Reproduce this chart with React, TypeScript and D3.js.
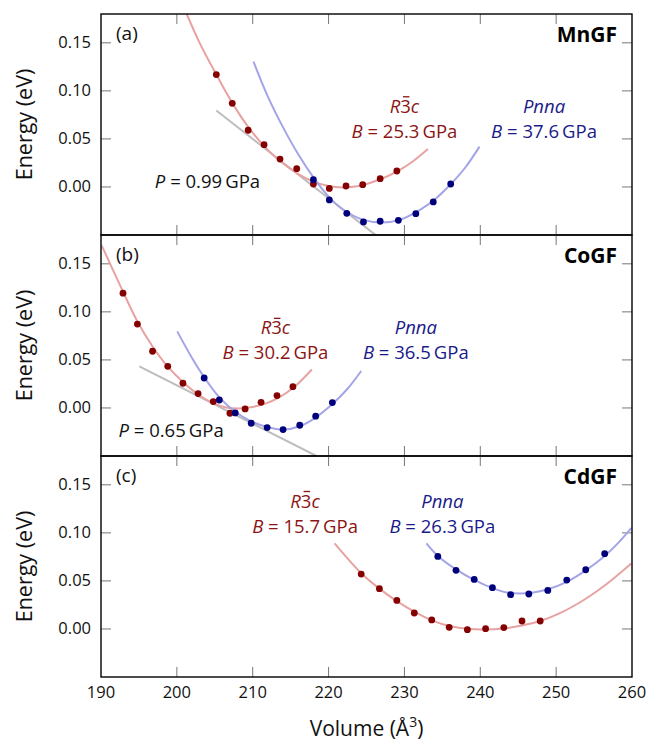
import React from 'react';
import * as d3 from 'd3';

// axis ticks
const xTicks = [190, 200, 210, 220, 230, 240, 250, 260];
const yTicks = [0, 0.05, 0.1, 0.15];
const yTickLabels = ['0.00', '0.05', '0.10', '0.15'];

const panelLabels = ['(a)', '(b)', '(c)'];
const compounds = ['MnGF', 'CoGF', 'CdGF'];
const bulkR3c = ['25.3', '30.2', '15.7'];
const bulkPnna = ['37.6', '36.5', '26.3'];
const pressures = ['0.99', '0.65', ''];

// MnGF
const mnR3cV = [205.2, 207.3, 209.4, 211.5, 213.6, 215.8, 218.0, 220.1, 222.3, 224.5, 226.8, 229.0];
const mnR3cE = [0.117, 0.087, 0.059, 0.044, 0.029, 0.019, 0.003, -0.0015, 0.001, 0.0024, 0.0086, 0.0166];
const mnPnnaV = [218.0, 220.1, 222.4, 224.6, 226.8, 229.2, 231.5, 233.8, 236.1];
const mnPnnaE = [0.0076, -0.0135, -0.0274, -0.0364, -0.0357, -0.0347, -0.0278, -0.0156, 0.0031];
const mnR3cFitV = [201.3, 203, 205.2, 207.3, 209.4, 211.5, 213.6, 215.8, 218, 220, 221.8, 224, 226.8, 229, 231, 233.1];
const mnR3cFitE = [0.18, 0.15, 0.117, 0.0875, 0.0625, 0.0425, 0.027, 0.0145, 0.0055, 0.001, -0.0005, 0.001, 0.008, 0.016, 0.026, 0.0395];
const mnPnnaFitV = [210.1, 212, 214, 216, 218, 220, 222, 224.5, 227, 229.5, 232, 234, 236, 238, 239.9];
const mnPnnaFitE = [0.1305, 0.094, 0.062, 0.034, 0.01, -0.01, -0.024, -0.034, -0.037, -0.034, -0.024, -0.013, 0.002, 0.02, 0.042];
const mnTangentV = [205.2, 226.2];
const mnTangentE = [0.0796, -0.05];

// CoGF
const coR3cV = [192.9, 194.8, 196.8, 198.8, 200.8, 202.8, 204.8, 207.0, 209.0, 211.1, 213.2, 215.3];
const coR3cE = [0.1195, 0.0873, 0.059, 0.0433, 0.0257, 0.015, 0.0066, -0.0055, -0.001, 0.0059, 0.0129, 0.0222];
const coPnnaV = [203.6, 205.6, 207.7, 209.8, 211.9, 214.0, 216.2, 218.3, 220.5];
const coPnnaE = [0.0312, 0.0083, -0.0052, -0.0159, -0.0204, -0.0225, -0.018, -0.0086, 0.0056];
const coR3cFitV = [190.1, 192.9, 194.8, 196.8, 198.8, 200.8, 202.8, 204.8, 206.5, 208, 209.5, 211.5, 213.5, 215.5, 217.8];
const coR3cFitE = [0.169, 0.121, 0.09, 0.064, 0.043, 0.027, 0.014, 0.005, 0.0005, -0.0005, 0.0005, 0.004, 0.011, 0.022, 0.04];
const coPnnaFitV = [200.05, 202, 203.6, 205.6, 207.7, 209.8, 212, 214, 216.2, 218.3, 220.5, 222.5, 224.3];
const coPnnaFitE = [0.0797, 0.052, 0.032, 0.011, -0.004, -0.014, -0.02, -0.0225, -0.019, -0.01, 0.004, 0.02, 0.0385];
const coTangentV = [195.05, 218.4];
const coTangentE = [0.0433, -0.05];

// CdGF
const cdR3cV = [224.3, 226.7, 229.0, 231.3, 233.6, 235.9, 238.3, 240.7, 243.1, 245.5, 247.9];
const cdR3cE = [0.0571, 0.0419, 0.0297, 0.0166, 0.0094, 0.0017, -0.0007, 0.0003, 0.0014, 0.0083, 0.0083];
const cdPnnaV = [234.4, 236.8, 239.2, 241.6, 244.0, 246.4, 248.9, 251.4, 253.9, 256.4];
const cdPnnaE = [0.0755, 0.061, 0.0516, 0.043, 0.0357, 0.0364, 0.0401, 0.0509, 0.0616, 0.0783];
const cdR3cFitV = [220.8, 224.3, 226.7, 229, 231.3, 233.6, 236, 238.5, 240.5, 243, 245.5, 248, 250.5, 253, 255.5, 257.5, 259.9];
const cdR3cFitE = [0.089, 0.058, 0.042, 0.029, 0.018, 0.009, 0.003, 0.0, -0.0005, 0.0005, 0.0035, 0.0085, 0.0165, 0.027, 0.04, 0.052, 0.068];
const cdPnnaFitV = [232.9, 234.4, 236.8, 239.2, 241.6, 243.5, 245.2, 247, 249, 251.4, 253.9, 256.4, 258, 259.9];
const cdPnnaFitE = [0.089, 0.076, 0.062, 0.051, 0.0425, 0.038, 0.037, 0.038, 0.0415, 0.049, 0.061, 0.076, 0.088, 0.105];

const zip = (v: number[], e: number[]) => v.map((d, i) => [d, e[i]] as [number, number]);

const panels = [
  {
    r3c: zip(mnR3cV, mnR3cE), pnna: zip(mnPnnaV, mnPnnaE),
    r3cFit: zip(mnR3cFitV, mnR3cFitE), pnnaFit: zip(mnPnnaFitV, mnPnnaFitE),
    tangent: zip(mnTangentV, mnTangentE),
    r3cLab: [230, 0.0772], pnnaLab: [248.4, 0.0772], pLab: [197.1, -0.0007],
  },
  {
    r3c: zip(coR3cV, coR3cE), pnna: zip(coPnnaV, coPnnaE),
    r3cFit: zip(coR3cFitV, coR3cFitE), pnnaFit: zip(coPnnaFitV, coPnnaFitE),
    tangent: zip(coTangentV, coTangentE),
    r3cLab: [213, 0.0766], pnnaLab: [231.5, 0.0766], pLab: [192.3, -0.0301],
  },
  {
    r3c: zip(cdR3cV, cdR3cE), pnna: zip(cdPnnaV, cdPnnaE),
    r3cFit: zip(cdR3cFitV, cdR3cFitE), pnnaFit: zip(cdPnnaFitV, cdPnnaFitE),
    tangent: null as null | [number, number][],
    r3cLab: [216.9, 0.1264], pnnaLab: [235, 0.1264], pLab: [0, 0],
  },
];

const W = 647;
const H = 742;
const left = 101;
const right = 632;
const panelTops = [14, 235, 456];
const panelH = 221;

const RED_DOT = '#850000';
const RED_LINE = '#e8a2a2';
const RED_TEXT = '#8b1414';
const BLUE_DOT = '#00007d';
const BLUE_LINE = '#a4a4e8';
const BLUE_TEXT = '#1a1a8a';
const FONT = '"Open Sans", "DejaVu Sans", sans-serif';

const x = d3.scaleLinear().domain([190, 260]).range([left, right]);

export default function App() {
  return (
    <svg width={W} height={H} style={{ position: 'absolute', left: 0, top: 0, background: '#fff' }} fontFamily={FONT}>
      <defs>
        {panelTops.map((t, i) => (
          <clipPath id={`clip${i}`} key={i}>
            <rect x={left} y={t} width={right - left} height={panelH} />
          </clipPath>
        ))}
      </defs>
      {panels.map((p, i) => {
        const top = panelTops[i];
        const y = d3.scaleLinear().domain([-0.05, 0.18]).range([top + panelH, top]);
        const line = d3.line<[number, number]>().x(d => x(d[0])).y(d => y(d[1])).curve(d3.curveCatmullRom.alpha(0.5));
        const tickLen = 10;
        const emph = 18.5;
        const rx = x(p.r3cLab[0]);
        const ry = y(p.r3cLab[1]);
        return (
          <g key={i}>
            {/* ticks on all four sides, pointing in */}
            {xTicks.slice(1, -1).map(t => (
              <g key={`xt${t}`} stroke="#777" strokeWidth={1}>
                <line x1={x(t)} x2={x(t)} y1={top} y2={top + tickLen} />
                <line x1={x(t)} x2={x(t)} y1={top + panelH} y2={top + panelH - tickLen} />
              </g>
            ))}
            {yTicks.map(t => (
              <g key={`yt${t}`} stroke="#777" strokeWidth={1}>
                <line x1={left} x2={left + tickLen} y1={y(t)} y2={y(t)} />
                <line x1={right} x2={right - tickLen} y1={y(t)} y2={y(t)} />
              </g>
            ))}
            {yTicks.map((t, k) => (
              <text key={`yl${t}`} x={left - 10} y={y(t) + 5.5} textAnchor="end" fontSize={16.5} fill="#111">
                {yTickLabels[k]}
              </text>
            ))}
            <text transform={`translate(32,${top + panelH / 2}) rotate(-90)`} textAnchor="middle" fontSize={21.5} fill="#111">
              Energy (eV)
            </text>

            <g clipPath={`url(#clip${i})`}>
              {p.tangent && (
                <path d={d3.line<[number, number]>().x(d => x(d[0])).y(d => y(d[1]))(p.tangent) || ''} stroke="#bdbdbd" strokeWidth={2} fill="none" />
              )}
              <path d={line(p.r3cFit) || ''} stroke={RED_LINE} strokeWidth={2} fill="none" />
              <path d={line(p.pnnaFit) || ''} stroke={BLUE_LINE} strokeWidth={2} fill="none" />
              {p.r3c.map((d, k) => (
                <circle key={`r${k}`} cx={x(d[0])} cy={y(d[1])} r={3.4} fill={RED_DOT} />
              ))}
              {p.pnna.map((d, k) => (
                <circle key={`b${k}`} cx={x(d[0])} cy={y(d[1])} r={3.4} fill={BLUE_DOT} />
              ))}
            </g>

            <rect x={left} y={top} width={right - left} height={panelH} fill="none" stroke="#000" strokeWidth={1.4} />

            <text x={left + 15} y={top + 26} fontSize={19} fill="#111">{panelLabels[i]}</text>
            <text x={right - 15} y={top + 28} fontSize={21} fontWeight="bold" textAnchor="end" fill="#000">{compounds[i]}</text>

            <text x={rx} y={ry} fontSize={emph} textAnchor="middle" fill={RED_TEXT}>
              <tspan fontStyle="italic">R</tspan>
              <tspan>3</tspan>
              <tspan fontStyle="italic">c</tspan>
            </text>
            <line x1={rx - 1.5} x2={rx + 5} y1={ry - 16} y2={ry - 16} stroke={RED_TEXT} strokeWidth={1.3} />
            <text x={rx} y={ry + 25} fontSize={emph} textAnchor="middle" fill={RED_TEXT}>
              <tspan fontStyle="italic">B</tspan> = {bulkR3c[i]}{'\u2009'}GPa
            </text>
            <text x={x(p.pnnaLab[0])} y={y(p.pnnaLab[1])} fontSize={emph} textAnchor="middle" fill={BLUE_TEXT} fontStyle="italic">
              Pnna
            </text>
            <text x={x(p.pnnaLab[0])} y={y(p.pnnaLab[1]) + 25} fontSize={emph} textAnchor="middle" fill={BLUE_TEXT}>
              <tspan fontStyle="italic">B</tspan> = {bulkPnna[i]}{'\u2009'}GPa
            </text>
            {pressures[i] && (
              <text x={x(p.pLab[0])} y={y(p.pLab[1])} fontSize={emph} fill="#111">
                <tspan fontStyle="italic">P</tspan> = {pressures[i]}{'\u2009'}GPa
              </text>
            )}

            {i === 2 &&
              xTicks.map(t => (
                <text key={`xl${t}`} x={x(t)} y={top + panelH + 21} textAnchor="middle" fontSize={16.5} fill="#111">
                  {t}
                </text>
              ))}
          </g>
        );
      })}
      <text x={(left + right) / 2} y={736} textAnchor="middle" fontSize={21} fill="#111">
        Volume (Å<tspan dy={-9} fontSize={14}>3</tspan><tspan dy={9}>)</tspan>
      </text>
    </svg>
  );
}
